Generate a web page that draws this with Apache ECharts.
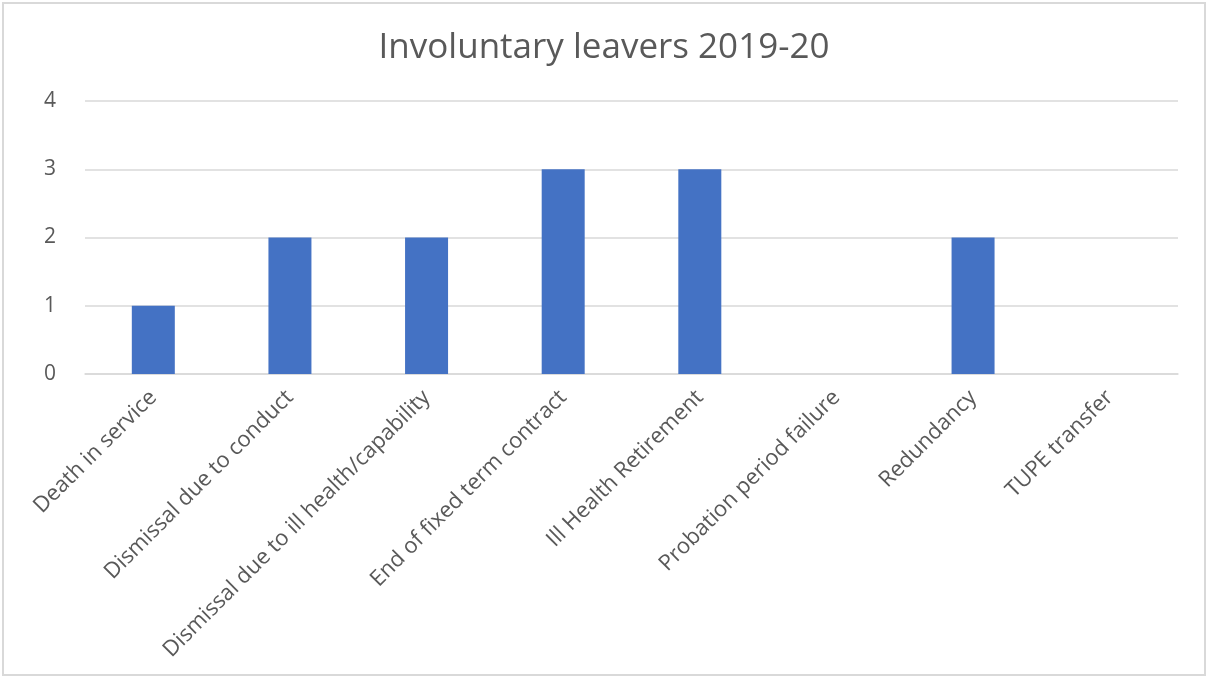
<!DOCTYPE html>
<html><head><meta charset="utf-8">
<script src="https://cdn.jsdelivr.net/npm/echarts@6/dist/echarts.min.js"></script>
<style>
html,body{margin:0;padding:0;background:#fff;}
#frame{position:absolute;left:2px;top:2px;width:1200px;height:670px;border:2px solid #d9d9d9;}
#c{position:absolute;left:0;top:0;width:1208px;height:677px;}
</style></head>
<body>
<div id="frame"></div>
<div id="c"></div>
<script>
const categories = ["Death in service","Dismissal due to conduct","Dismissal due to ill health/capability","End of fixed term contract","Ill Health Retirement","Probation period failure","Redundancy","TUPE transfer"];
const values = [1,2,2,3,3,0,2,0];
const yTicks = [0,1,2,3,4];

const chart = echarts.init(document.getElementById('c'), null, {renderer:'canvas'});
chart.setOption({
  backgroundColor:'transparent',
  animation:false,
  title:{text:'Involuntary leavers 2019-20',left:'center',top:26,
    textStyle:{fontFamily:'Open Sans',fontSize:35,fontWeight:'normal',color:'#595959'}},
  grid:{left:85,right:30,top:101,bottom:303,containLabel:false},
  xAxis:{type:'category',data:categories,
    axisLine:{show:true,lineStyle:{color:'#d9d9d9',width:1.5}},
    axisTick:{show:false},
    axisLabel:{rotate:45,interval:0,margin:20,fontFamily:'Open Sans',fontSize:22,color:'#595959'}},
  yAxis:{type:'value',min:yTicks[0],max:yTicks[yTicks.length-1],interval:1,
    axisLine:{show:false},axisTick:{show:false},
    splitLine:{lineStyle:{color:'#d9d9d9',width:1.5}},
    axisLabel:{margin:29,fontFamily:'Open Sans',fontSize:21,color:'#595959'}},
  series:[{type:'bar',data:values,barWidth:43,itemStyle:{color:'#4472C4'}}]
});
</script>
</body></html>
